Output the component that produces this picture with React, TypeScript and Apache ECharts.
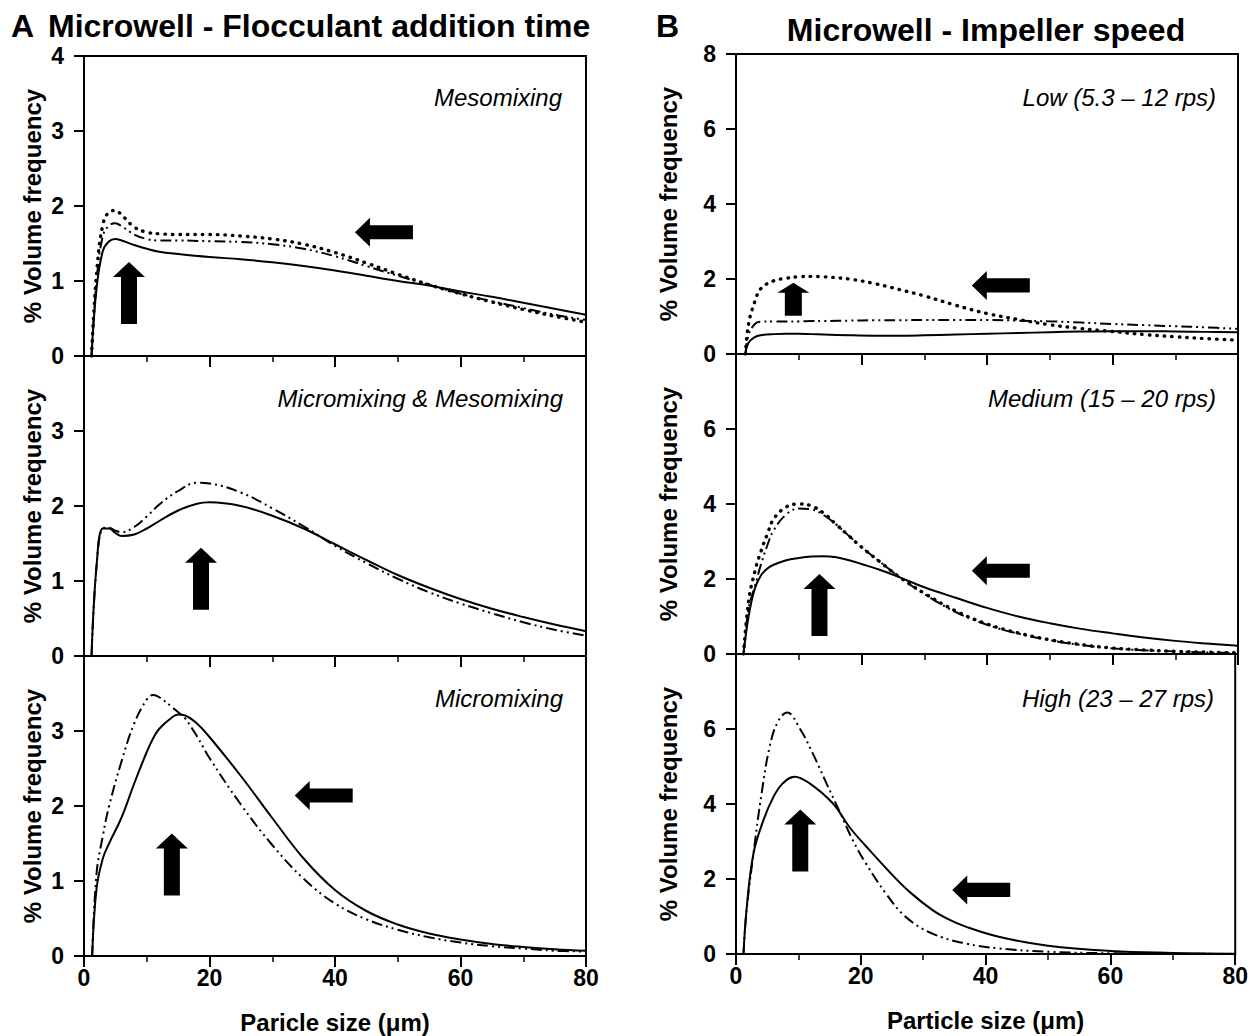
import React, { useEffect, useRef } from "react";
import * as echarts from "echarts";

// ---------- data ----------
// Panel A1 (Mesomixing)
const a1X = [1.2, 2, 3, 4, 5, 6, 8, 10, 12, 15, 20, 25, 30, 35, 40, 45, 50, 55, 60, 65, 70, 75, 80];
const a1Solid = [0, 0.9, 1.4, 1.53, 1.56, 1.54, 1.48, 1.43, 1.39, 1.36, 1.32, 1.29, 1.25, 1.2, 1.14, 1.07, 1.0, 0.94, 0.86, 0.79, 0.71, 0.63, 0.55];
const a1DashDot = [0, 1.0, 1.6, 1.74, 1.77, 1.73, 1.62, 1.56, 1.54, 1.54, 1.53, 1.52, 1.49, 1.43, 1.33, 1.2, 1.07, 0.95, 0.83, 0.73, 0.64, 0.55, 0.48];
const a1Dotted = [0, 1.1, 1.75, 1.92, 1.94, 1.88, 1.72, 1.65, 1.63, 1.62, 1.62, 1.6, 1.56, 1.49, 1.38, 1.24, 1.09, 0.95, 0.83, 0.72, 0.62, 0.53, 0.45];

// Panel A2 (Micromixing & Mesomixing)
const a2X = [1.2, 2, 3, 4, 5, 6, 8, 10, 12, 15, 18, 20, 25, 30, 35, 40, 45, 50, 55, 60, 65, 70, 75, 80];
const a2Solid = [0, 1.2, 1.7, 1.7, 1.64, 1.6, 1.62, 1.7, 1.8, 1.94, 2.03, 2.05, 2.0, 1.87, 1.7, 1.49, 1.28, 1.08, 0.91, 0.76, 0.63, 0.52, 0.42, 0.33];
const a2DashDot = [0, 1.2, 1.7, 1.71, 1.67, 1.65, 1.72, 1.86, 2.02, 2.2, 2.31, 2.3, 2.18, 1.97, 1.73, 1.47, 1.24, 1.03, 0.85, 0.7, 0.57, 0.45, 0.35, 0.27];

// Panel A3 (Micromixing)
const a3X = [1.3, 2, 3, 4, 6, 8, 10, 11, 12, 14, 15, 16, 18, 20, 25, 30, 35, 40, 45, 50, 55, 60, 65, 70, 75, 80];
const a3Solid = [0, 0.9, 1.3, 1.5, 1.85, 2.3, 2.72, 2.9, 3.03, 3.18, 3.22, 3.21, 3.1, 2.92, 2.4, 1.84, 1.3, 0.88, 0.6, 0.42, 0.3, 0.22, 0.16, 0.12, 0.09, 0.07];
const a3DashDot = [0, 1.1, 1.6, 2.0, 2.6, 3.1, 3.42, 3.48, 3.45, 3.32, 3.25, 3.18, 2.93, 2.64, 2.02, 1.48, 1.03, 0.7, 0.49, 0.35, 0.25, 0.18, 0.13, 0.1, 0.07, 0.06];

// Panel B1 (Low)
const b1X = [1.5, 2, 3, 4, 6, 8, 10, 12, 14, 18, 22, 26, 30, 35, 40, 45, 50, 55, 60, 65, 70, 75, 80];
const b1Dotted = [0, 0.8, 1.4, 1.75, 1.95, 2.02, 2.06, 2.07, 2.06, 2.0, 1.88, 1.72, 1.55, 1.3, 1.08, 0.92, 0.78, 0.68, 0.6, 0.52, 0.46, 0.41, 0.37];
const b1DashDot = [0, 0.5, 0.8, 0.86, 0.87, 0.87, 0.87, 0.88, 0.88, 0.89, 0.9, 0.9, 0.91, 0.91, 0.91, 0.89, 0.87, 0.84, 0.8, 0.77, 0.74, 0.71, 0.67];
const b1Solid = [0, 0.3, 0.45, 0.5, 0.53, 0.54, 0.54, 0.53, 0.52, 0.5, 0.49, 0.49, 0.5, 0.52, 0.54, 0.56, 0.58, 0.6, 0.61, 0.61, 0.6, 0.59, 0.58];

// Panel B2 (Medium)
const b2X = [1.2, 2, 3, 4, 5, 6, 8, 10, 12, 14, 16, 18, 20, 23, 26, 30, 35, 40, 45, 50, 55, 60, 65, 70, 75, 80];
const b2Dotted = [0, 1.4, 2.2, 2.75, 3.2, 3.6, 3.92, 4.0, 3.95, 3.75, 3.45, 3.15, 2.85, 2.45, 2.06, 1.62, 1.15, 0.8, 0.56, 0.38, 0.25, 0.16, 0.11, 0.07, 0.05, 0.03];
const b2DashDot = [0, 1.2, 1.8, 2.4, 2.9, 3.3, 3.72, 3.88, 3.86, 3.7, 3.45, 3.15, 2.85, 2.45, 2.06, 1.6, 1.12, 0.78, 0.54, 0.37, 0.24, 0.15, 0.1, 0.07, 0.04, 0.03];
const b2Solid = [0, 1.0, 1.75, 2.1, 2.28, 2.38, 2.5, 2.56, 2.6, 2.61, 2.58, 2.5, 2.4, 2.24, 2.05, 1.78, 1.5, 1.23, 1.0, 0.82, 0.67, 0.55, 0.44, 0.35, 0.28, 0.22];

// Panel B3 (High)
const b3DashX = [1.2, 1.7, 2.8, 4.1, 5.4, 6.7, 8.2, 10.2, 12.3, 14.5, 16.6, 18.7, 20.8, 24, 27.2, 31.4, 36.8, 42.1, 50, 60, 70, 80];
const b3DashDot = [0, 1.17, 2.68, 4.28, 5.53, 6.19, 6.44, 6.02, 5.35, 4.55, 3.8, 3.04, 2.42, 1.62, 0.99, 0.55, 0.28, 0.15, 0.06, 0.02, 0.01, 0];
const b3SolidX = [1.2, 1.7, 2.8, 4.4, 6.0, 7.5, 9.4, 11.8, 15.5, 18.2, 20.8, 25.1, 28, 31.5, 34, 36.8, 42.1, 50, 60, 70, 80];
const b3Solid = [0, 1.2, 2.68, 3.57, 4.19, 4.55, 4.73, 4.55, 4.02, 3.38, 2.88, 2.1, 1.63, 1.17, 0.93, 0.73, 0.46, 0.22, 0.08, 0.03, 0.01];

// Arrow annotation anchors (data coordinates)
const arrowsUp = [
  { panel: 0, at: [7.17, 0.84] },
  { panel: 1, at: [18.65, 1.03] },
  { panel: 2, at: [14.0, 1.22] },
  { panel: 4, at: [13.3, 1.31] },
  { panel: 5, at: [10.3, 3.03] },
];
const arrowsUpSmall = [{ panel: 3, at: [9.14, 1.46] }];
const arrowsLeft = [
  { panel: 0, at: [47.8, 1.65] },
  { panel: 2, at: [38.2, 2.14] },
  { panel: 3, at: [42.2, 1.83] },
  { panel: 4, at: [42.2, 2.22] },
  { panel: 5, at: [39.3, 1.71] },
];

const xTicks = { min: 0, max: 80, interval: 20 };
const yMaxA = 4;
const yIntA = 1;
const yMaxB = 8;
const yIntB = 2;

const panelLabels = [
  "Mesomixing",
  "Micromixing & Mesomixing",
  "Micromixing",
  "Low (5.3 – 12 rps)",
  "Medium (15 – 20 rps)",
  "High (23 – 27 rps)",
];
const yName = "% Volume frequency";
const xNameA = "Paricle size (μm)";
const xNameB = "Particle size (μm)";

// ---------- layout ----------
const FONT = '"Liberation Sans", Arial, Helvetica, sans-serif';
const GRID_W = 502;
const GRID_H = 300;
const LEFT_A = 84;
const LEFT_B = 736;
const TOPS_A = [56, 356, 656];
const TOPS_B = [54, 354, 654];

const zip = (xs: number[], ys: number[]) => xs.map((x, i) => [x, ys[i]]);

const UP_PATH = "path://M16,0 L32,15 L24,15 L24,62 L8,62 L8,15 L0,15 Z";
const UP_SMALL_PATH = "path://M16,0 L32,10 L24.5,10 L24.5,33 L7.5,33 L7.5,10 L0,10 Z";
const LEFT_PATH = "path://M0,14.5 L15,0 L15,7.5 L58,7.5 L58,21.5 L15,21.5 L15,29 Z";

export default function App() {
  const ref = useRef<HTMLDivElement>(null);

  useEffect(() => {
    if (!ref.current) return;
    const chart = echarts.init(ref.current, undefined, { renderer: "svg" });

    const grids: any[] = [];
    const xAxes: any[] = [];
    const yAxes: any[] = [];
    for (let i = 0; i < 6; i++) {
      const isA = i < 3;
      const row = i % 3;
      const bottom = row === 2;
      grids.push({
        left: isA ? LEFT_A : LEFT_B,
        top: isA ? TOPS_A[row] : TOPS_B[row],
        width: GRID_W,
        height: GRID_H,
        show: true,
        borderColor: "#000",
        borderWidth: 2,
        backgroundColor: "transparent",
      });
      xAxes.push({
        gridIndex: i,
        type: "value",
        min: xTicks.min,
        max: xTicks.max,
        interval: xTicks.interval,
        axisLine: { show: true, lineStyle: { color: "#000", width: 2 } },
        axisTick: { show: true, inside: false, length: 11, lineStyle: { color: "#000", width: 2 } },
        minorTick: { show: true, splitNumber: 2, length: 6, lineStyle: { color: "#000", width: 1.5 } },
        axisLabel: {
          show: bottom,
          color: "#000",
          fontFamily: FONT,
          fontWeight: "bold",
          fontSize: 23,
          margin: 10,
        },
        splitLine: { show: false },
        name: bottom ? (isA ? xNameA : xNameB) : "",
        nameLocation: "middle",
        nameGap: 54,
        nameTextStyle: { color: "#000", fontFamily: FONT, fontWeight: "bold", fontSize: 24 },
      });
      yAxes.push({
        gridIndex: i,
        type: "value",
        min: 0,
        max: isA ? yMaxA : yMaxB,
        interval: isA ? yIntA : yIntB,
        axisLine: { show: true, lineStyle: { color: "#000", width: 2 } },
        axisTick: { show: true, inside: false, length: 10, lineStyle: { color: "#000", width: 2 } },
        axisLabel: {
          color: "#000",
          fontFamily: FONT,
          fontWeight: "bold",
          fontSize: 23,
          margin: 20,
          showMaxLabel: row === 0,
        },
        splitLine: { show: false },
        name: yName,
        nameLocation: "middle",
        nameGap: isA ? 40 : 56,
        nameRotate: 90,
        nameTextStyle: { color: "#000", fontFamily: FONT, fontWeight: "bold", fontSize: 24 },
      });
    }

    const solid = { color: "#000", width: 2, type: "solid" };
    const dashDot = { color: "#000", width: 2, type: [11, 4, 2, 4, 2, 4] };
    const dotted = { color: "#000", width: 3.4, type: [0.5, 7], cap: "round" };

    const line = (panel: number, data: number[][], style: any) => ({
      type: "line",
      xAxisIndex: panel,
      yAxisIndex: panel,
      data,
      showSymbol: false,
      symbol: "none",
      smooth: 0.4,
      lineStyle: style,
      silent: true,
      z: 3,
    });

    const series: any[] = [
      line(0, zip(a1X, a1Solid), solid),
      line(0, zip(a1X, a1DashDot), dashDot),
      line(0, zip(a1X, a1Dotted), dotted),
      line(1, zip(a2X, a2Solid), solid),
      line(1, zip(a2X, a2DashDot), dashDot),
      line(2, zip(a3X, a3Solid), solid),
      line(2, zip(a3X, a3DashDot), dashDot),
      line(3, zip(b1X, b1Solid), solid),
      line(3, zip(b1X, b1DashDot), dashDot),
      line(3, zip(b1X, b1Dotted), dotted),
      line(4, zip(b2X, b2Solid), solid),
      line(4, zip(b2X, b2DashDot), dashDot),
      line(4, zip(b2X, b2Dotted), dotted),
      line(5, zip(b3SolidX, b3Solid), solid),
      line(5, zip(b3DashX, b3DashDot), dashDot),
    ];

    const arrowSeries = (list: any[], symbol: string, size: number[]) =>
      list.map((a) => ({
        type: "scatter",
        xAxisIndex: a.panel,
        yAxisIndex: a.panel,
        data: [a.at],
        symbol,
        symbolSize: size,
        itemStyle: { color: "#000", opacity: 1 },
        silent: true,
        z: 4,
      }));

    series.push(...arrowSeries(arrowsUp, UP_PATH, [32, 62]));
    series.push(...arrowSeries(arrowsUpSmall, UP_SMALL_PATH, [32, 33]));
    series.push(...arrowSeries(arrowsLeft, LEFT_PATH, [58, 29]));

    const labelPos = [
      [562, 97],
      [563, 398],
      [563, 698],
      [1216, 97],
      [1216, 398],
      [1214, 698],
    ];

    const graphic: any[] = panelLabels.map((t, i) => ({
      type: "text",
      x: labelPos[i][0],
      y: labelPos[i][1],
      style: {
        text: t,
        fill: "#000",
        font: `italic 24px ${FONT}`,
        align: "right",
        verticalAlign: "middle",
      },
      silent: true,
    }));
    const titleFont = `bold 32px ${FONT}`;
    graphic.push(
      {
        type: "text",
        x: 11,
        y: 26,
        style: { text: "A", fill: "#000", font: titleFont, align: "left", verticalAlign: "middle" },
      },
      {
        type: "text",
        x: 48,
        y: 26,
        style: {
          text: "Microwell - Flocculant addition time",
          fill: "#000",
          font: titleFont,
          align: "left",
          verticalAlign: "middle",
        },
      },
      {
        type: "text",
        x: 656,
        y: 26,
        style: { text: "B", fill: "#000", font: titleFont, align: "left", verticalAlign: "middle" },
      },
      {
        type: "text",
        x: 986,
        y: 30,
        style: {
          text: "Microwell - Impeller speed",
          fill: "#000",
          font: titleFont,
          align: "center",
          verticalAlign: "middle",
        },
      }
    );

    chart.setOption({
      animation: false,
      backgroundColor: "#fff",
      grid: grids,
      xAxis: xAxes,
      yAxis: yAxes,
      series,
      graphic,
    });

    return () => chart.dispose();
  }, []);

  return (
    <div
      ref={ref}
      style={{ position: "fixed", left: 0, top: 0, width: 1251, height: 1036, background: "#fff" }}
    />
  );
}
